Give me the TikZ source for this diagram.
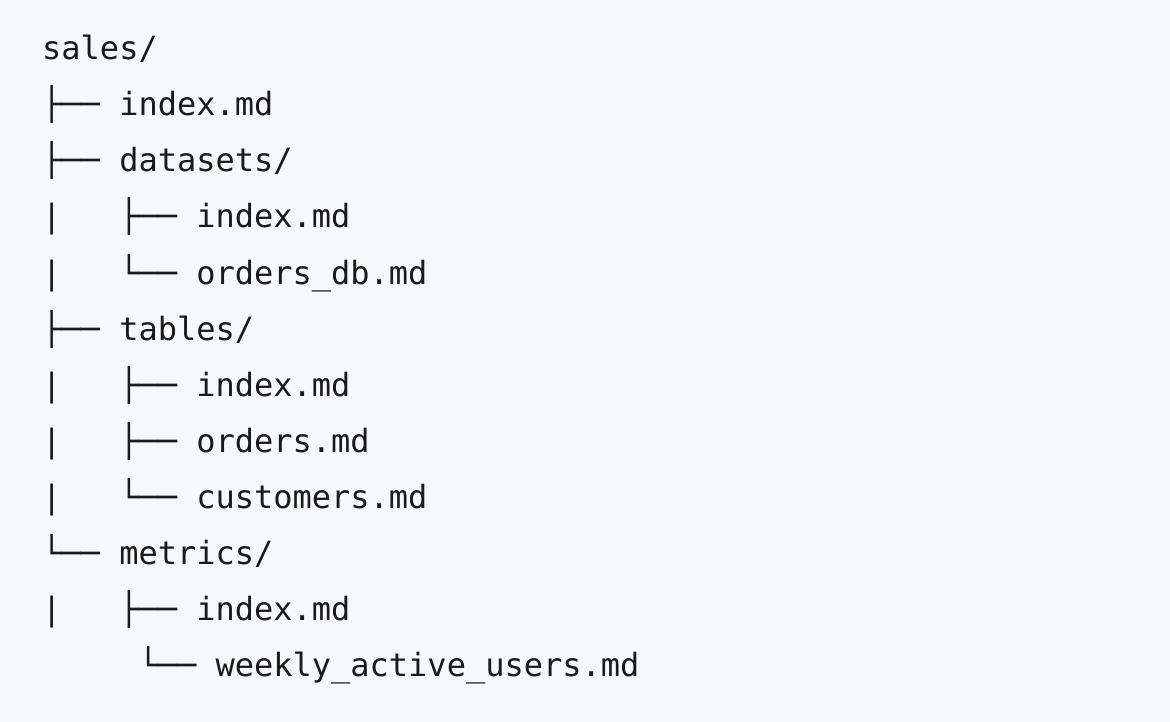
\documentclass[tikz,border=0pt]{standalone}
\usepackage{fontspec}
\setmonofont{DejaVu Sans Mono}
\definecolor{bgpanel}{HTML}{F7F8FA}
\definecolor{treeink}{HTML}{1A1A1A}
\begin{document}
\begin{tikzpicture}
[x=1pt,y=1pt,line/.style={anchor=base west,inner sep=0pt,text=treeink,font=\ttfamily\fontsize{32}{36}\selectfont},]

%Background panel
\fill[bgpanel] (0,0) rectangle (1170,-722);
\useasboundingbox (0,0) rectangle (1170,-722);

%Tree lines
\foreach \i/\txt in {1/{sales/},
  2/{├── index.md},
  3/{├── datasets/},
  4/{|\ \ \ ├── index.md},
  5/{|\ \ \ └── orders\_db.md},
  6/{├── tables/},
  7/{|\ \ \ ├── index.md},
  8/{|\ \ \ ├── orders.md},
  9/{|\ \ \ └── customers.md},
  10/{└── metrics/},
  11/{|\ \ \ ├── index.md},
  12/{\ \ \ \ \ └── weekly\_active\_users.md}}
{
  \node (l\i) at (42,{-60-56*(\i-1)})[line] {\obeyspaces\txt};
}

%
\end{tikzpicture}
\end{document}
